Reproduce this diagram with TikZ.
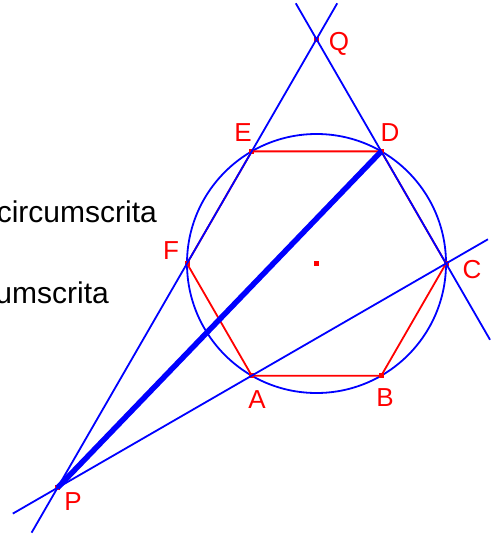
\documentclass[tikz,border=0pt]{standalone}
\usepackage{fontspec}
\setmainfont{Liberation Sans}
\usetikzlibrary{calc}
\definecolor{GeoBlue}{RGB}{0,0,255}
\definecolor{GeoRed}{RGB}{255,0,0}

\begin{document}
\begin{tikzpicture}[
    x=1pt, y=-1pt,
    font=\fontsize{26}{31}\selectfont,
    guide/.style={draw=GeoBlue, line width=1.8pt},
    chord/.style={draw=GeoBlue, line width=5.5pt},
    side/.style={draw=GeoRed, line width=1.8pt},
    ring/.style={draw=GeoBlue, line width=1.8pt},
    vtx/.style={rectangle, fill=GeoRed, minimum size=5pt, inner sep=0pt},
    lbl/.style={text=GeoRed, inner sep=0pt},
    note/.style={text=black, inner sep=0pt, anchor=base east,
      font=\fontsize{30}{36}\selectfont},
  ]
    \useasboundingbox (0,0) rectangle (498,536);
    \clip (0,0) rectangle (498,536);

    % hexagon on its circle
    \coordinate (O) at (316.5,263.5);
    \coordinate (A) at (251.75,375.65);
    \coordinate (B) at (381.25,375.65);
    \coordinate (C) at (446,263.5);
    \coordinate (D) at (381.25,151.35);
    \coordinate (E) at (251.75,151.35);
    \coordinate (F) at (187,263.5);
    \coordinate (P) at ($(E)!3!(F)$);
    \coordinate (Q) at ($(E)!-1!(F)$);

    \node[note] (txt1) at (157,222) {circumscrita};
    \node[note] (txt2) at (109,303) {umscrita};

    \draw[ring] (O) circle[radius=129.5pt];
    \draw[side] (A) -- (B) -- (C) -- (D) -- (E) -- (F) -- cycle;

    \foreach \p in {O,A,B,C,D,E,F,P,Q}
      \node[vtx] (d\p) at (\p) {};

    % extended lines
    \coordinate (pq1) at ($(P)!-0.1!(Q)$);
    \coordinate (pq2) at ($(Q)!-0.08!(P)$);
    \coordinate (qc1) at ($(Q)!-0.16!(C)$);
    \coordinate (qc2) at ($(C)!-0.34!(Q)$);
    \coordinate (pc1) at ($(P)!-0.115!(C)$);
    \coordinate (pc2) at ($(C)!-0.108!(P)$);
    \draw[guide] (pq1) -- (pq2);
    \draw[guide] (qc1) -- (qc2);
    \draw[guide] (pc1) -- (pc2);

    \draw[chord] (P) -- (D);

    \node[lbl] (lQ) at (339,44) {Q};
    \node[lbl] (lE) at (243,133) {E};
    \node[lbl] (lD) at (390,133) {D};
    \node[lbl] (lF) at (171,251) {F};
    \node[lbl] (lC) at (472,270) {C};
    \node[lbl] (lA) at (257,400) {A};
    \node[lbl] (lB) at (385,398) {B};
    \node[lbl] (lP) at (73,502) {P};
\end{tikzpicture}
\end{document}
